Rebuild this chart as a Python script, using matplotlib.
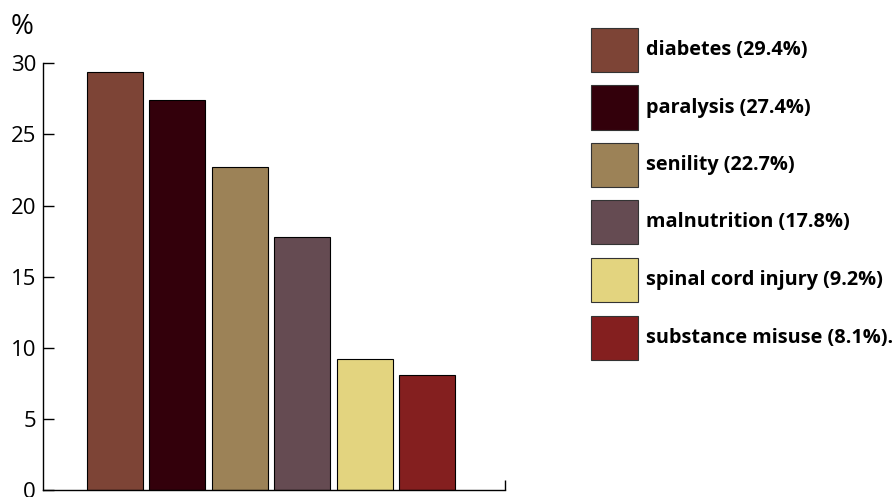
import matplotlib.pyplot as plt
from matplotlib.patches import Rectangle

# Causes and their share (%)
causes = ['diabetes', 'paralysis', 'senility', 'malnutrition',
          'spinal cord injury', 'substance misuse']
shares = [29.4, 27.4, 22.7, 17.8, 9.2, 8.1]
colors = ['#7D4436', '#33000B', '#9C8257', '#654B52', '#E3D47F', '#841F1F']
yticks = [0, 5, 10, 15, 20, 25, 30]

plt.rcParams['font.family'] = ['Open Sans', 'DejaVu Sans']

W, H = 896, 497
fig = plt.figure(figsize=(W / 100, H / 100), dpi=100)
ax = fig.add_axes([0.048, 0.014, 0.5156, 0.8586])

x = range(len(shares))
ax.bar(x, shares, width=0.9, color=colors, edgecolor='black', linewidth=0.8)

ax.set_xlim(-1.154, 6.25)
ax.set_ylim(0, 30)
ax.set_yticks(yticks)
ax.tick_params(axis='y', direction='in', length=8, width=1, labelsize=16, pad=5)
ax.set_xticks([6.25])
ax.set_xticklabels([])
ax.tick_params(axis='x', direction='in', length=7, width=1)
for s in ['top', 'right']:
    ax.spines[s].set_visible(False)
for s in ['left', 'bottom']:
    ax.spines[s].set_linewidth(1)

fig.text(0.012, 0.918, '%', fontsize=20, ha='left', va='bottom')

# legend: colour boxes with labels, laid out in pixels from the top-left
labels = [f'{c} ({v}%)' for c, v in zip(causes, shares)]
labels[-1] += '.'
box_x, box_w, box_h, top, step = 591, 47, 44, 28, 57.5
for i, (c, lab) in enumerate(zip(colors, labels)):
    y0 = top + i * step
    fig.add_artist(Rectangle((box_x / W, 1 - (y0 + box_h) / H), box_w / W, box_h / H,
                             transform=fig.transFigure, facecolor=c,
                             edgecolor='#333333', linewidth=0.8))
    fig.text((box_x + box_w + 8) / W, 1 - (y0 + box_h / 2) / H, lab,
             fontsize=14.3, fontweight='bold', ha='left', va='center')

fig.savefig('out.png', dpi=100)
